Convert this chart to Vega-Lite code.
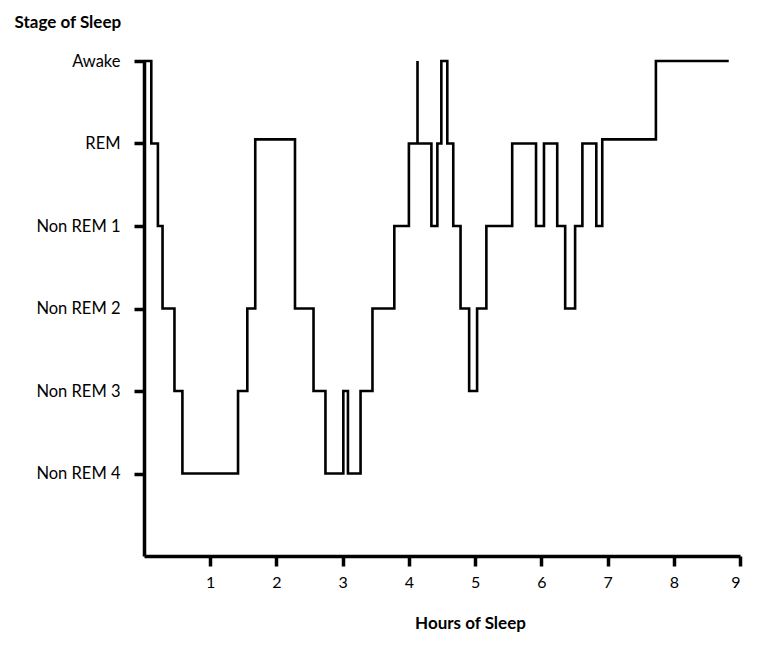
{
  "$schema": "https://vega.github.io/schema/vega-lite/v6.json",
  "width": 596,
  "height": 495,
  "autosize": {"type": "none"},
  "padding": {"left": 144, "top": 61, "right": 28, "bottom": 95},
  "background": "white",
  "config": {"view": {"stroke": null}, "font": "Lato"},
  "data": {"values": [
    {"hours": 0.0, "stage": 6},
    {"hours": 0.11, "stage": 5},
    {"hours": 0.21, "stage": 4},
    {"hours": 0.28, "stage": 3},
    {"hours": 0.46, "stage": 2},
    {"hours": 0.58, "stage": 1},
    {"hours": 1.42, "stage": 2},
    {"hours": 1.56, "stage": 3},
    {"hours": 1.68, "stage": 5.05},
    {"hours": 2.28, "stage": 3},
    {"hours": 2.56, "stage": 2},
    {"hours": 2.74, "stage": 1},
    {"hours": 3.01, "stage": 2},
    {"hours": 3.08, "stage": 1},
    {"hours": 3.27, "stage": 2},
    {"hours": 3.45, "stage": 3},
    {"hours": 3.78, "stage": 4},
    {"hours": 4.0, "stage": 5},
    {"hours": 4.13, "stage": 6},
    {"hours": 4.13, "stage": 5},
    {"hours": 4.34, "stage": 4},
    {"hours": 4.43, "stage": 5},
    {"hours": 4.49, "stage": 6},
    {"hours": 4.58, "stage": 5},
    {"hours": 4.67, "stage": 4},
    {"hours": 4.78, "stage": 3},
    {"hours": 4.91, "stage": 2},
    {"hours": 5.03, "stage": 3},
    {"hours": 5.17, "stage": 4},
    {"hours": 5.56, "stage": 5},
    {"hours": 5.92, "stage": 4},
    {"hours": 6.04, "stage": 5},
    {"hours": 6.24, "stage": 4},
    {"hours": 6.36, "stage": 3},
    {"hours": 6.51, "stage": 4},
    {"hours": 6.62, "stage": 5},
    {"hours": 6.83, "stage": 4},
    {"hours": 6.92, "stage": 5.05},
    {"hours": 7.73, "stage": 6},
    {"hours": 8.83, "stage": 6}
  ]},
  "mark": {"type": "line", "interpolate": "step-after", "color": "black", "strokeWidth": 2.6, "clip": false},
  "encoding": {
    "x": {
      "field": "hours", "type": "quantitative",
      "scale": {"domain": [0, 9], "nice": false, "zero": true},
      "axis": {
        "title": "Hours of Sleep",
        "values": [1, 2, 3, 4, 5, 6, 7, 8, 9],
        "grid": false,
        "domainColor": "black", "domainWidth": 3.5,
        "tickColor": "black", "tickWidth": 3.5, "tickSize": 10,
        "labelFont": "Lato", "labelFontSize": 16, "labelColor": "black", "labelPadding": 8,
        "titleFont": "Lato", "titleFontSize": 17, "titleFontWeight": "bold", "titleColor": "black",
        "titleX": 326, "titleY": 67, "titleAlign": "center", "titleBaseline": "middle"
      }
    },
    "y": {
      "field": "stage", "type": "quantitative",
      "scale": {"domain": [0, 6], "nice": false},
      "axis": {
        "title": "Stage of Sleep",
        "values": [1, 2, 3, 4, 5, 6],
        "labelExpr": "['', 'Non REM 4', 'Non REM 3', 'Non REM 2', 'Non REM 1', 'REM', 'Awake'][datum.value]",
        "grid": false,
        "domainColor": "black", "domainWidth": 3.5,
        "tickColor": "black", "tickWidth": 3.5, "tickSize": 10,
        "labelFont": "Lato", "labelFontSize": 16.5, "labelColor": "black", "labelPadding": 14,
        "titleFont": "Lato", "titleFontSize": 17, "titleFontWeight": "bold", "titleColor": "black",
        "titleAngle": 0, "titleX": -130, "titleY": -39, "titleAlign": "left", "titleBaseline": "middle"
      }
    }
  }
}
